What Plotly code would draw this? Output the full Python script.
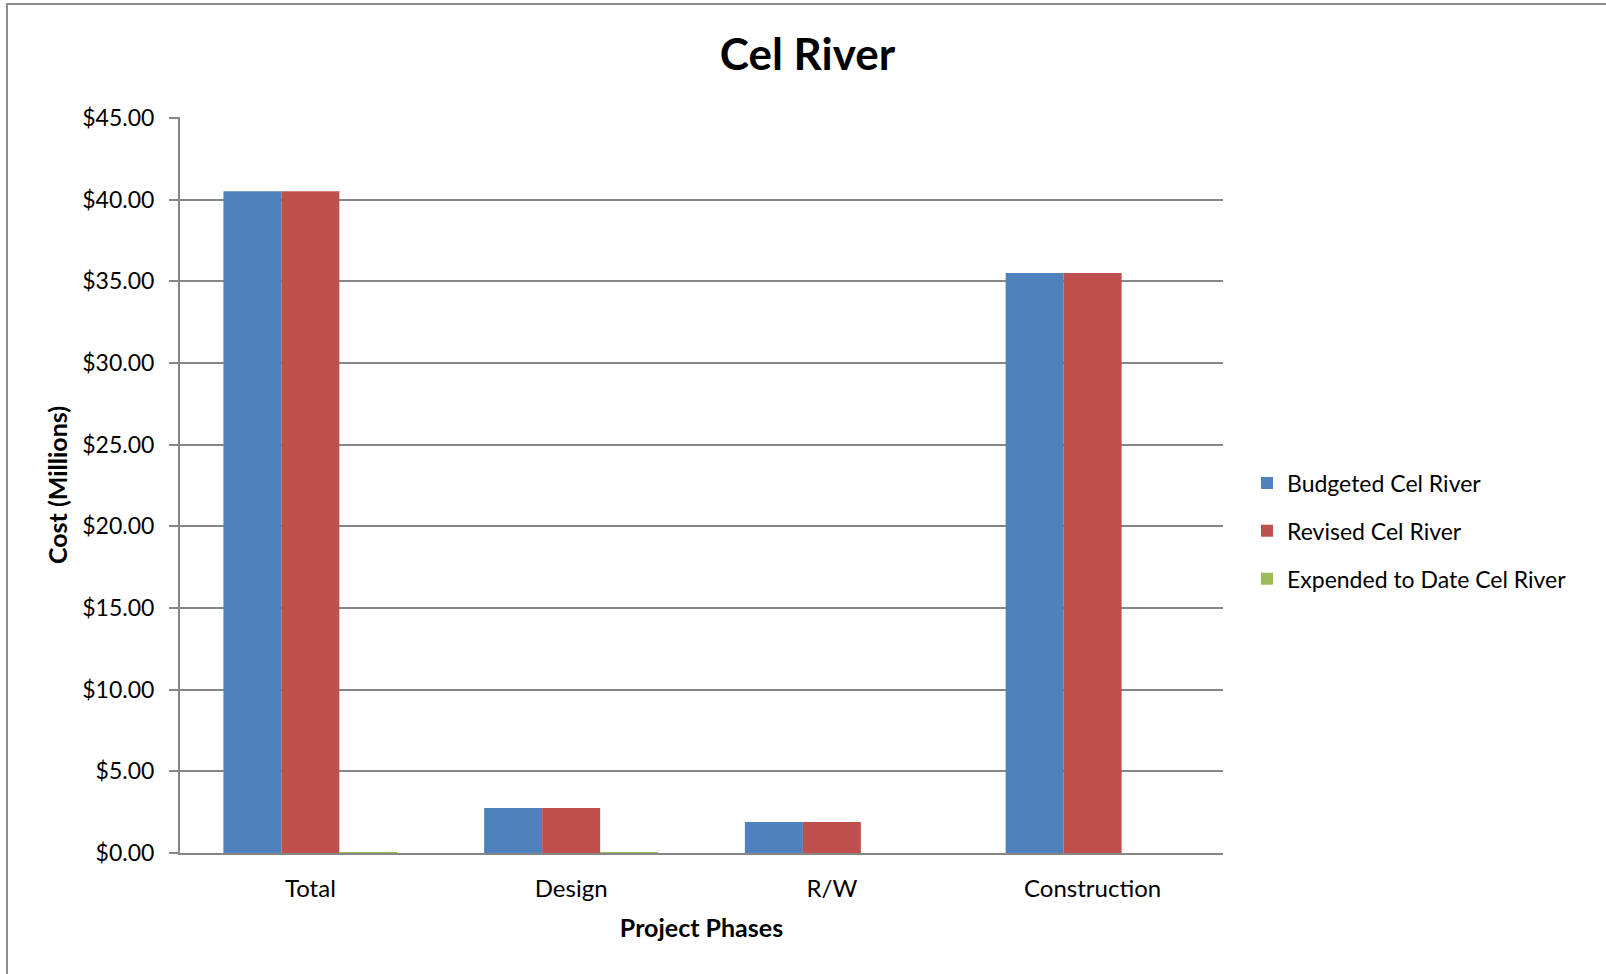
import plotly.graph_objects as go

categories = ["Total", "Design", "R/W", "Construction"]
budgeted = [40.5, 2.75, 1.9, 35.5]
revised = [40.5, 2.75, 1.9, 35.5]
expended = [0.04, 0.04, 0.0, 0.0]
series_names = ["Budgeted Cel River", "Revised Cel River", "Expended to Date Cel River"]
colors = ["#4F81BD", "#C0504D", "#9BBB59"]
y_ticks = [0, 5, 10, 15, 20, 25, 30, 35, 40, 45]

FONT = "Lato"
W, H = 1606, 974
L, R, T, B = 180, 1223, 117, 853

fig = go.Figure()
for i, (name, vals) in enumerate(zip(series_names, [budgeted, revised, expended])):
    fig.add_trace(go.Bar(
        x=categories, y=vals, name=name,
        marker=dict(color=colors[i], line=dict(width=0)),
        legendgroup=f"g{i}",
    ))

pw, ph = R - L, B - T
def px_x(p):
    return (p - L) / pw
def px_y(p):
    return (B - p) / ph

fig.update_layout(
    width=W, height=H,
    margin=dict(l=L, r=W - R, t=T, b=H - B, autoexpand=False),
    paper_bgcolor="white", plot_bgcolor="white",
    barmode="group", bargap=0.333, bargroupgap=0,
    font=dict(family=FONT, size=23, color="black"),
    title=dict(text="<b>Cel River</b>", x=px_x(807.5), xref="paper", xanchor="center",
               y=1 - 55 / H, yanchor="middle", font=dict(size=44, family=FONT)),
    showlegend=True,
    legend=dict(x=px_x(1247), xanchor="left", y=px_y(531), yanchor="middle",
                traceorder="grouped", tracegroupgap=15,
                font=dict(size=23, family=FONT), bgcolor="rgba(0,0,0,0)"),
    xaxis=dict(
        showline=True, linecolor="#868686", linewidth=2,
        showgrid=False, ticks="", tickfont=dict(size=24),
        ticklabelstandoff=13,
        title=dict(text="<b>Project Phases</b>", font=dict(size=25), standoff=19),
    ),
    yaxis=dict(
        range=[0, 45.05], tickvals=y_ticks, tickformat="$.2f",
        showline=True, linecolor="#868686", linewidth=2,
        showgrid=True, gridcolor="#868686", gridwidth=1.5,
        ticks="outside", ticklen=9, tickcolor="#868686", tickwidth=1.5,
        tickfont=dict(size=23), ticklabelstandoff=10,
        zeroline=False,
        title=dict(text="<b>Cost (Millions)</b>", font=dict(size=25), standoff=8),
    ),
    shapes=[dict(type="rect", xref="paper", yref="paper",
                 x0=px_x(7), x1=px_x(1640), y0=px_y(1010), y1=px_y(4),
                 line=dict(color="#8c8c8c", width=2), fillcolor="rgba(0,0,0,0)", layer="below")],
)

fig.write_html("out.html", config={"displayModeBar": False},
               post_script="document.body.style.margin='0';")
